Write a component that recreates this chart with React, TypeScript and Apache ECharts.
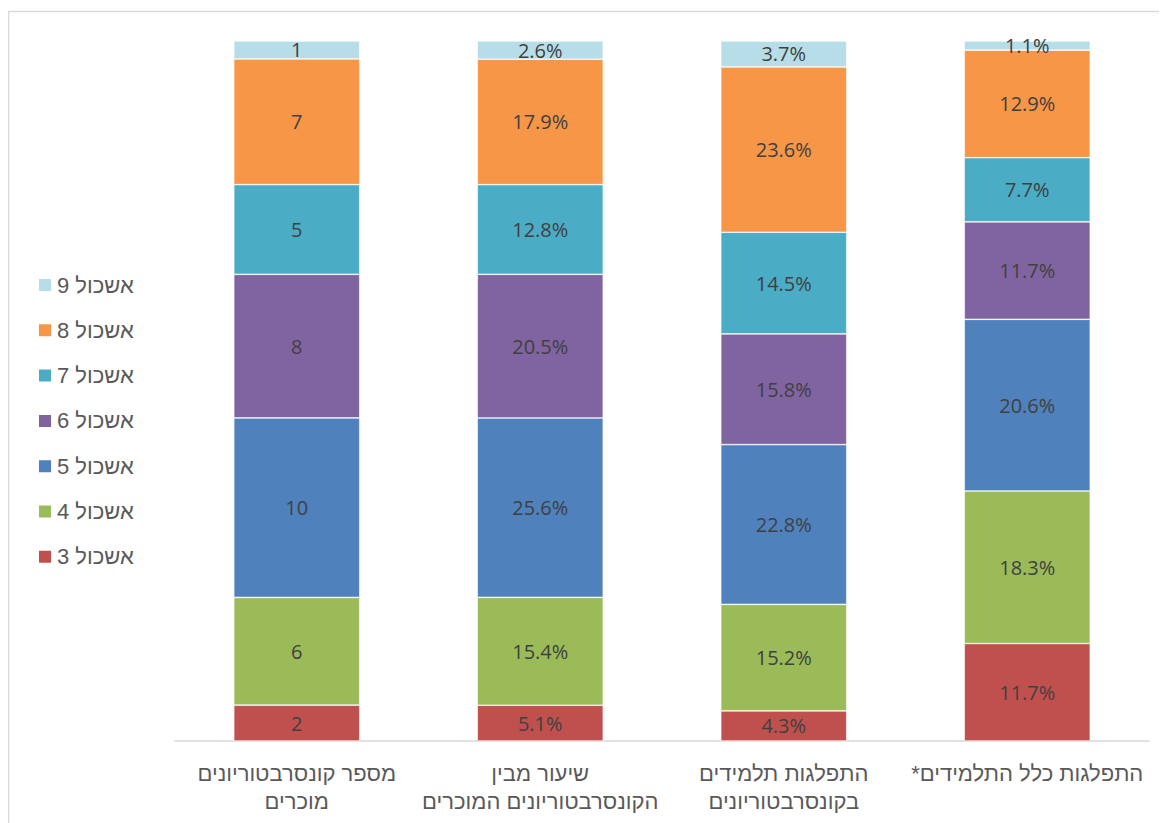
import React, { useEffect, useRef } from "react";
import * as echarts from "echarts";

const categories = [
  "מספר קונסרבטוריונים\nמוכרים",
  "שיעור מבין\nהקונסרבטוריונים המוכרים",
  "התפלגות תלמידים\nבקונסרבטוריונים",
  "התפלגות כלל התלמידים*\u200F",
];

const seriesNames = ["אשכול 3", "אשכול 4", "אשכול 5", "אשכול 6", "אשכול 7", "אשכול 8", "אשכול 9"];
const cluster3 = [2, 5.1, 4.3, 11.7];
const cluster4 = [6, 15.4, 15.2, 18.3];
const cluster5 = [10, 25.6, 22.8, 20.6];
const cluster6 = [8, 20.5, 15.8, 11.7];
const cluster7 = [5, 12.8, 14.5, 7.7];
const cluster8 = [7, 17.9, 23.6, 12.9];
const cluster9 = [1, 2.6, 3.7, 1.1];
const colors = ["#C0504D", "#9BBB59", "#4F81BD", "#8064A2", "#4BACC6", "#F79646", "#B7DEE8"];

const FONT = "'Segoe UI', 'Open Sans', 'Liberation Sans', sans-serif";
const HEB_FONT = "'Liberation Sans', Arial, sans-serif";

export default function App() {
  const ref = useRef<HTMLDivElement>(null);
  useEffect(() => {
    if (!ref.current) return;
    const chart = echarts.init(ref.current, undefined, { renderer: "svg" });
    const raw = [cluster3, cluster4, cluster5, cluster6, cluster7, cluster8, cluster9];
    const totals = categories.map((_, i) => raw.reduce((s, arr) => s + arr[i], 0));
    const series = raw.map((arr, k) => ({
      name: seriesNames[k],
      type: "bar",
      stack: "total",
      barWidth: 126,
      itemStyle: { color: colors[k], borderColor: "#ffffff", borderWidth: 0.6 },
      label: {
        show: true,
        position: "inside",
        color: "#404040",
        fontSize: 20,
        fontFamily: FONT,
        formatter: (p: any) => {
          const v = arr[p.dataIndex];
          return p.dataIndex === 0 ? String(v) : v.toFixed(1) + "%";
        },
      },
      data: arr.map((v, i) => (v / totals[i]) * 100),
    }));
    chart.setOption({
      animation: false,
      graphic: [
        {
          type: "rect",
          shape: { x: 0.5, y: 3.5, width: 1400, height: 1000 },
          style: { fill: "none", stroke: "#d9d9d9", lineWidth: 1.5 },
          silent: true,
        },
      ],
      legend: {
        orient: "vertical",
        left: 24,
        top: 261,
        itemWidth: 14,
        itemHeight: 14,
        itemGap: 23.3,
        icon: "rect",
        data: seriesNames.slice().reverse(),
        textStyle: { fontSize: 22, lineHeight: 20, color: "#595959", fontFamily: HEB_FONT, padding: [0, 0, 0, 0] },
      },
      grid: { left: 167, top: 33, width: 974, height: 700 },
      xAxis: {
        type: "category",
        data: categories,
        axisTick: { show: false },
        axisLine: { lineStyle: { color: "#d9d9d9", width: 1.5 } },
        axisLabel: {
          interval: 0,
          margin: 18,
          fontSize: 22,
          lineHeight: 28,
          color: "#595959",
          fontFamily: HEB_FONT,
        },
      },
      yAxis: { type: "value", min: 0, max: 100, show: false, splitLine: { show: false } },
      series,
    });
    return () => chart.dispose();
  }, []);
  return <div ref={ref} style={{ width: 1159, height: 815 }} />;
}
